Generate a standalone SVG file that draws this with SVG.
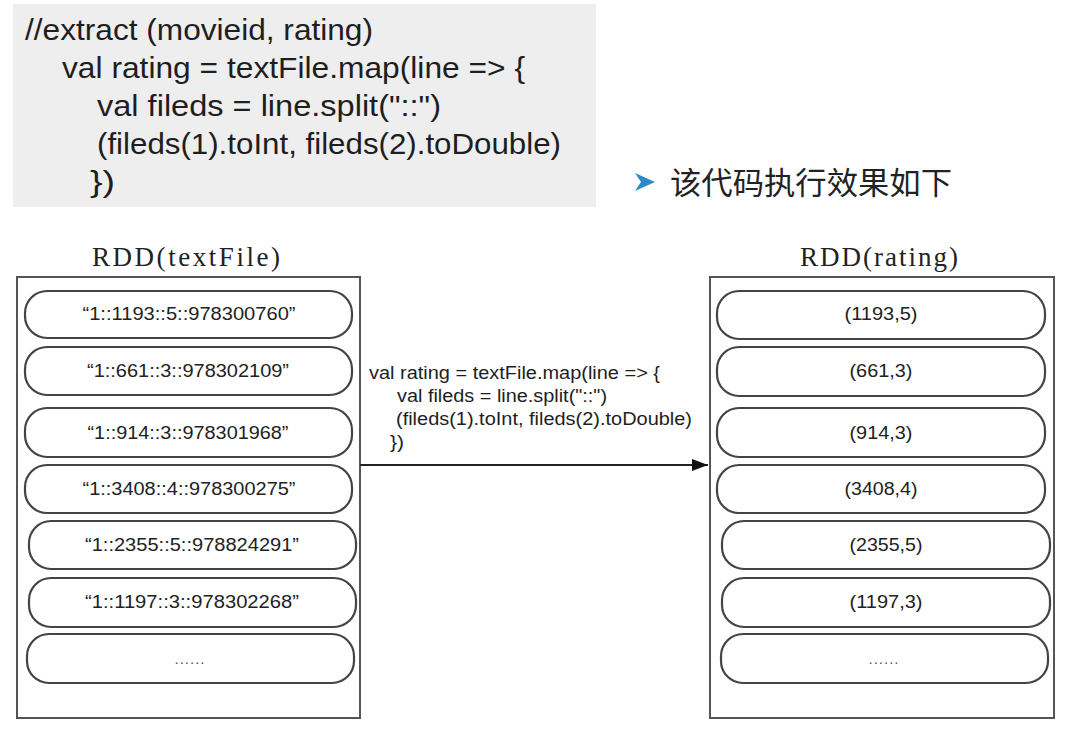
<svg xmlns="http://www.w3.org/2000/svg" width="1076" height="748" viewBox="0 0 1076 748">
<defs>
<style>
.code{font-family:"Liberation Sans",Arial,sans-serif;font-size:29px;fill:#1e1e1e}
.mid{font-family:"Liberation Sans",Arial,sans-serif;font-size:17.5px;fill:#1e1e1e}
.lbl{font-family:"Liberation Serif","Times New Roman",serif;font-size:27px;fill:#222}
.item{font-family:"Liberation Sans",Arial,sans-serif;font-size:18px;fill:#222;text-anchor:middle}
.dots{font-family:"Liberation Sans",Arial,sans-serif;font-size:15px;fill:#555;text-anchor:middle;letter-spacing:1px}
.outer{fill:#fff;stroke:#555;stroke-width:2}
.pill{fill:#fff;stroke:#444;stroke-width:2.2}
.cn{font-family:"Noto Sans CJK SC","Noto Sans",sans-serif;font-size:31px;fill:#222}
</style>
<marker id="ah" markerWidth="16" markerHeight="12" refX="16" refY="6" orient="auto" markerUnits="userSpaceOnUse">
<path d="M0,0 L16,6 L0,12 Z" fill="#111"/>
</marker>
</defs>
<rect width="1076" height="748" fill="#fff"/>

<g id="code-block">
<rect x="13" y="4" width="583" height="203" fill="#eeeeee"/>
<text class="code" x="25" y="40" textLength="348" lengthAdjust="spacingAndGlyphs">//extract (movieid, rating)</text>
<text class="code" x="62" y="78" textLength="463" lengthAdjust="spacingAndGlyphs">val rating = textFile.map(line =&gt; {</text>
<text class="code" x="97" y="116" textLength="344" lengthAdjust="spacingAndGlyphs">val fileds = line.split("::")</text>
<text class="code" x="97" y="154" textLength="464" lengthAdjust="spacingAndGlyphs">(fileds(1).toInt, fileds(2).toDouble)</text>
<text class="code" x="90" y="192" textLength="25" lengthAdjust="spacingAndGlyphs">})</text>
</g>

<g id="heading">
<path d="M635,173 L655,182 L635,191 L641,182 Z" fill="#2b8cc4"/>
<text class="cn" x="670" y="194" textLength="282" lengthAdjust="spacingAndGlyphs">该代码执行效果如下</text>
</g>

<g id="rdd-textFile">
<text class="lbl" x="92" y="266" textLength="188" lengthAdjust="spacing">RDD(textFile)</text>
<rect class="outer" x="17" y="277" width="343" height="441"/>
<rect class="pill" x="25" y="291" width="327" height="47" rx="22"/>
<text class="item" x="189" y="320" textLength="213" lengthAdjust="spacingAndGlyphs">“1::1193::5::978300760”</text>
<rect class="pill" x="25" y="347" width="327" height="48" rx="22"/>
<text class="item" x="188" y="377" textLength="202" lengthAdjust="spacingAndGlyphs">“1::661::3::978302109”</text>
<rect class="pill" x="25" y="408" width="327" height="49" rx="22"/>
<text class="item" x="188" y="439" textLength="201" lengthAdjust="spacingAndGlyphs">“1::914::3::978301968”</text>
<rect class="pill" x="25" y="465" width="327" height="48" rx="22"/>
<text class="item" x="189" y="495" textLength="213" lengthAdjust="spacingAndGlyphs">“1::3408::4::978300275”</text>
<rect class="pill" x="29" y="521" width="327" height="48" rx="22"/>
<text class="item" x="192" y="551" textLength="214" lengthAdjust="spacingAndGlyphs">“1::2355::5::978824291”</text>
<rect class="pill" x="29" y="578" width="327" height="49" rx="22"/>
<text class="item" x="192" y="608" textLength="214" lengthAdjust="spacingAndGlyphs">“1::1197::3::978302268”</text>
<rect class="pill" x="27" y="634" width="327" height="49" rx="22"/>
<text class="dots" x="190" y="664">......</text>
</g>

<g id="rdd-rating">
<text class="lbl" x="800" y="266" textLength="158" lengthAdjust="spacing">RDD(rating)</text>
<rect class="outer" x="710" y="277" width="344" height="441"/>
<rect class="pill" x="717" y="291" width="328" height="48" rx="22"/>
<text class="item" x="881" y="320" textLength="73" lengthAdjust="spacingAndGlyphs">(1193,5)</text>
<rect class="pill" x="717" y="347" width="328" height="49" rx="22"/>
<text class="item" x="881" y="377" textLength="63" lengthAdjust="spacingAndGlyphs">(661,3)</text>
<rect class="pill" x="717" y="408" width="328" height="49" rx="22"/>
<text class="item" x="881" y="439" textLength="63" lengthAdjust="spacingAndGlyphs">(914,3)</text>
<rect class="pill" x="717" y="465" width="328" height="48" rx="22"/>
<text class="item" x="881" y="495" textLength="73" lengthAdjust="spacingAndGlyphs">(3408,4)</text>
<rect class="pill" x="722" y="521" width="328" height="48" rx="22"/>
<text class="item" x="886" y="551" textLength="73" lengthAdjust="spacingAndGlyphs">(2355,5)</text>
<rect class="pill" x="722" y="578" width="328" height="49" rx="22"/>
<text class="item" x="886" y="608" textLength="73" lengthAdjust="spacingAndGlyphs">(1197,3)</text>
<rect class="pill" x="721" y="634" width="327" height="49" rx="22"/>
<text class="dots" x="884" y="664">......</text>
</g>

<g id="connectors">
<line x1="360" y1="465" x2="708" y2="465" stroke="#222" stroke-width="1.8" marker-end="url(#ah)"/>
<text class="mid" x="369" y="379" textLength="291" lengthAdjust="spacingAndGlyphs">val rating = textFile.map(line =&gt; {</text>
<text class="mid" x="397" y="402" textLength="210" lengthAdjust="spacingAndGlyphs">val fileds = line.split("::")</text>
<text class="mid" x="396" y="425" textLength="296" lengthAdjust="spacingAndGlyphs">(fileds(1).toInt, fileds(2).toDouble)</text>
<text class="mid" x="390" y="448" textLength="14" lengthAdjust="spacingAndGlyphs">})</text>
</g>
</svg>
